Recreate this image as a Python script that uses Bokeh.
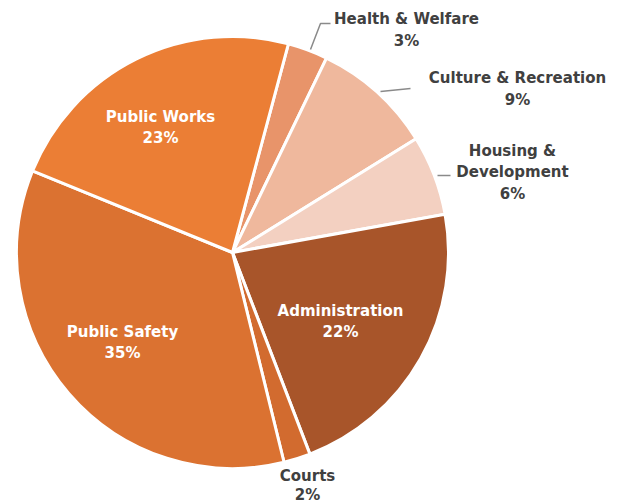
import numpy as np
from bokeh.plotting import figure
from bokeh.models import Range1d, ColumnDataSource
from bokeh.core.properties import value
from bokeh.embed import file_html
from bokeh.resources import INLINE

# ---- data ----
categories = ["Health & Welfare", "Culture & Recreation", "Housing & Development",
              "Administration", "Courts", "Public Safety", "Public Works"]
shares = [3, 9, 6, 22, 2, 35, 23]
colors = ["#E8946A", "#EFB89D", "#F3D0C1", "#A8552A", "#D26B2F", "#DB7231", "#EB7E35"]

# ---- layout ----
W, H = 624, 504
def Y(y):  # image pixel y -> data y
    return H - y

cx, cy, R = 232, Y(252), 216
start_deg = 75  # first slice starts 15 deg clockwise from 12 o'clock

vals = np.array(shares, dtype=float)
frac = vals / vals.sum()
cum = np.concatenate([[0], np.cumsum(frac)])
starts = np.deg2rad(start_deg - 360 * cum[:-1])
ends = np.deg2rad(start_deg - 360 * cum[1:])

p = figure(width=W, height=H, x_range=Range1d(0, W), y_range=Range1d(0, H),
           output_backend="svg", toolbar_location=None, min_border=0)
p.axis.visible = False
p.grid.visible = False
p.outline_line_color = None
p.background_fill_color = "white"
p.border_fill_color = "white"

src = ColumnDataSource(dict(start=starts, end=ends, color=colors, cat=categories))
p.wedge(x=cx, y=cy, radius=R, start_angle="end", end_angle="start",
        fill_color="color", line_color="white", line_width=3, source=src)

# labels: (lines, x, y of first line, color, line height)
labels = [
    (["Health & Welfare", "3%"], 406, 18, "#404040", 22),
    (["Culture & Recreation", "9%"], 517, 77, "#404040", 22),
    (["Housing &", "Development", "6%"], 512, 150, "#404040", 21.5),
    (["Administration", "22%"], 340, 310, "white", 21),
    (["Courts", "2%"], 307, 475, "#404040", 19),
    (["Public Safety", "35%"], 122, 331, "white", 21),
    (["Public Works", "23%"], 160, 116, "white", 21),
]
for lines, lx, ly, col, lh in labels:
    xs = [lx] * len(lines)
    ys = [Y(ly + i * lh) for i in range(len(lines))]
    p.text(x=xs, y=ys, text=lines, text_align="center", text_baseline="middle",
           text_font=value("DejaVu Sans"), text_font_style="bold", text_font_size="15px",
           text_color=col)

# leader lines
p.line(x=[310, 320, 330], y=[Y(49), Y(23), Y(23)], line_color="#8a8a8a", line_width=1.5)
p.line(x=[380, 410], y=[Y(91), Y(88)], line_color="#8a8a8a", line_width=1.5)
p.line(x=[437, 450], y=[Y(175), Y(175)], line_color="#8a8a8a", line_width=1.5)

open("out.html", "w").write(file_html(p, INLINE))
